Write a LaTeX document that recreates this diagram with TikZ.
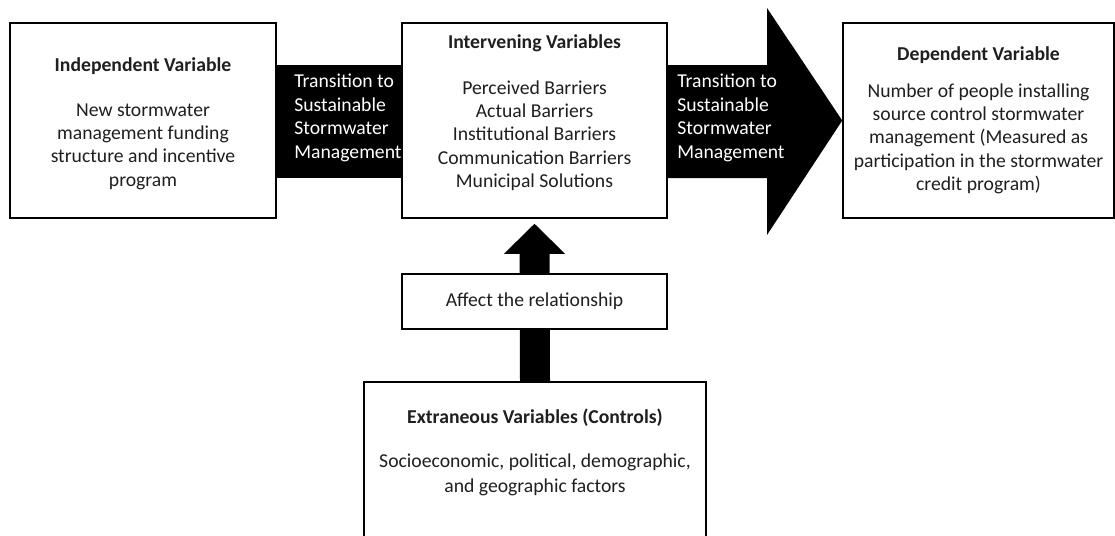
\documentclass[tikz,border=0pt]{standalone}
\usepackage{fontspec}
\setmainfont{Carlito}
\usetikzlibrary{positioning,calc,backgrounds}
\begin{document}
\begin{tikzpicture}[x=0.02cm,y=-0.02cm,line join=miter,
 box/.style={draw=black,line width=0.9pt,fill=white,inner sep=0pt,minimum height=3.9cm},
 txt/.style={align=center,inner sep=0pt,text=black!88,font=\fontsize{11.2}{13.3}\selectfont},
 bandtxt/.style={align=left,inner sep=0pt,text=white,font=\fontsize{11.2}{13.3}\selectfont}]
 \useasboundingbox (0,0) rectangle (1115,535);
 \clip (0,0) rectangle (1115,535);
 % boxes
 \node[box,minimum width=5.32cm] (indep) at (143,120.5) {};
 \node[box,minimum width=5.3cm] (interv) at (534.5,120.5) {};
 \node[box,minimum width=5.42cm] (dep) at (978.5,120.5) {};
 \node[box,txt,minimum width=5.3cm,minimum height=1.1cm] (affect) at (534.5,301.5) {Affect the relationship};
 \node[box,minimum width=6.84cm,minimum height=3.56cm] (extr) at (535,471) {};
 % texts
 \node[txt,anchor=north] (indeptxt) at (143,57) {\textbf{Independent Variable}\\[12.3pt]New stormwater\\management funding\\structure and incentive\\program};
 \node[txt,anchor=north] (intervtxt) at (534.5,34) {\textbf{Intervening Variables}\\[12.9pt]Perceived Barriers\\Actual Barriers\\Institutional Barriers\\Communication Barriers\\Municipal Solutions};
 \node[txt,anchor=north] (deptxt) at (978.5,46) {\textbf{Dependent Variable}\\[7.7pt]Number of people installing\\source control stormwater\\management (Measured as\\participation in the stormwater\\credit program)};
 \node[txt,anchor=north] (extrtxt) at (535,409) {\textbf{Extraneous Variables (Controls)}\\[11.2pt]Socioeconomic, political, demographic,\\[1pt]and geographic factors};
 \node[bandtxt,anchor=north west] (lefttrans) at (294,74) {Transition to\\Sustainable\\Stormwater\\Management};
 \node[bandtxt,anchor=north west] (righttrans) at (677,74) {Transition to\\Sustainable\\Stormwater\\Management};
 % black bands and arrows
 \begin{scope}[on background layer]
 \fill ($(indep.east)+(0,-55.5)$) rectangle ($(interv.west)+(0,57.5)$);
 \fill ($(interv.east)+(0,-55.5)$) -- (767,65) -- (767,8) -- (dep.west) -- (767,235) -- (767,178) -- ($(interv.east)+(0,57.5)$) -- cycle;
 \fill ($(extr.north)+(-15,0)$) -- ($(interv.south)+(-15,35)$) -- ($(interv.south)+(-30.5,35)$) -- ($(interv.south)+(0,5)$)
 -- ($(interv.south)+(30.5,35)$) -- ($(interv.south)+(15,35)$) -- ($(extr.north)+(15,0)$) -- cycle;
 \end{scope}
\end{tikzpicture}
\end{document}
